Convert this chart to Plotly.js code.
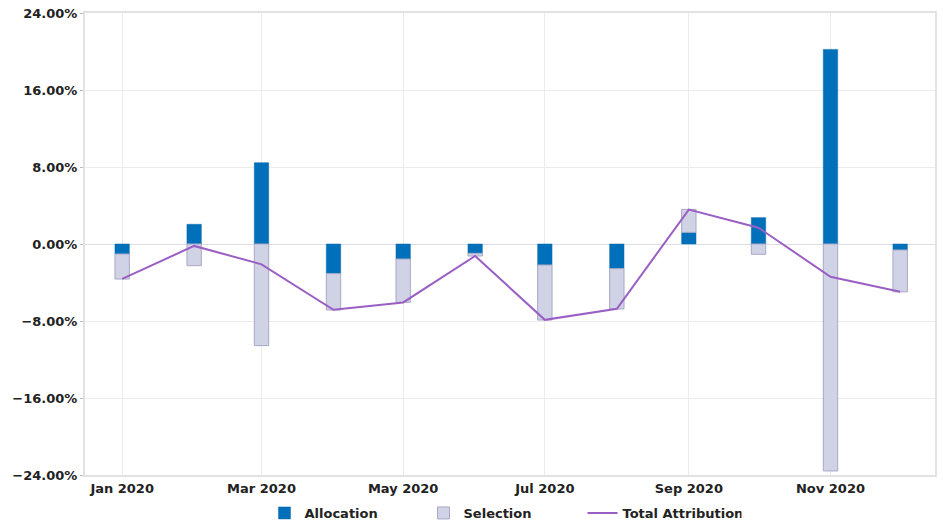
<!DOCTYPE html>
<html>
<head>
<meta charset="utf-8">
<script src="https://cdn.plot.ly/plotly-3.0.1.min.js"></script>
<style>html,body{margin:0;padding:0;background:#fff;}#chart{width:943px;height:524px;}</style>
</head>
<body>
<div id="chart"></div>
<script>
const months = ['2020-01-01','2020-02-01','2020-03-01','2020-04-01','2020-05-01','2020-06-01','2020-07-01','2020-08-01','2020-09-01','2020-10-01','2020-11-01','2020-12-01'];
const allocation = [-1.04, 2.05, 8.45, -3.08, -1.56, -0.97, -2.18, -2.56, 1.21, 2.74, 20.22, -0.62];
const selection = [-2.60, -2.25, -10.56, -3.78, -4.50, -0.28, -5.72, -4.19, 2.39, -1.07, -23.58, -4.35];
const totalAttribution = [-3.62, -0.20, -2.11, -6.84, -6.07, -1.25, -7.88, -6.73, 3.58, 1.69, -3.40, -4.96];
const yTicks = [-24, -16, -8, 0, 8, 16, 24];
const yTickLabels = ['−24.00%', '−16.00%', '−8.00%', '0.00%', '8.00%', '16.00%', '24.00%'];

const tf = {family: 'DejaVu Sans, sans-serif', size: 13, color: '#222', weight: 'bold'};
const barWidth = 6.2 * 86400000;

const data = [
  {type: 'bar', name: 'Allocation', x: months, y: allocation, width: barWidth,
   marker: {color: '#0070ba', line: {color: '#0a68ad', width: 0.5}}},
  {type: 'bar', name: 'Selection', x: months, y: selection, width: barWidth,
   marker: {color: '#d0d2e6', line: {color: '#a8a9c4', width: 1}}},
  {type: 'scatter', mode: 'lines', name: 'Total Attribution', x: months, y: totalAttribution,
   line: {color: '#9a5fc4', width: 2}}
];

const layout = {
  width: 943, height: 524,
  margin: {l: 85, r: 8, t: 13, b: 49},
  barmode: 'relative',
  paper_bgcolor: '#fff', plot_bgcolor: '#fff',
  font: {family: 'DejaVu Sans, sans-serif', size: 13, color: '#222'},
  showlegend: true,
  legend: {orientation: 'h', x: 0.5334, xanchor: 'center', xref: 'container',
           y: 0.021, yanchor: 'middle', yref: 'container',
           font: tf, traceorder: 'normal', entrywidth: 114, entrywidthmode: 'pixels'},
  xaxis: {type: 'date', range: ['2019-12-16', '2020-12-16'], dtick: 'M2', tick0: '2020-01-01',
          tickformat: '%b %Y', showgrid: true, gridcolor: '#ececec', gridwidth: 1,
          showline: true, linecolor: '#e2e2e2', linewidth: 2, mirror: true,
          ticks: '', zeroline: false, tickfont: tf},
  yaxis: {range: [-24, 24], tickvals: yTicks, ticktext: yTickLabels,
          showgrid: true, gridcolor: '#ececec', gridwidth: 1,
          showline: true, linecolor: '#e2e2e2', linewidth: 2, mirror: true,
          ticks: 'outside', ticklen: 3, tickcolor: '#bbb',
          zeroline: true, zerolinecolor: '#dcdde6', zerolinewidth: 1, tickfont: tf},
  hovermode: false
};

Plotly.newPlot('chart', data, layout, {displayModeBar: false, staticPlot: true});
</script>
</body>
</html>
